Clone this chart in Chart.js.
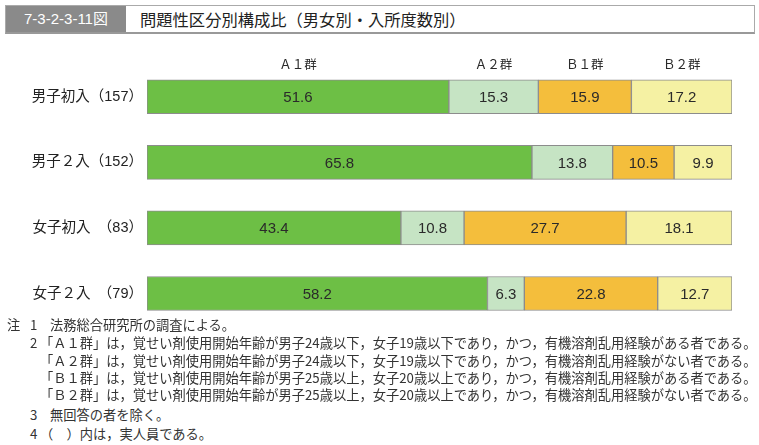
<!DOCTYPE html>
<html>
<head>
<meta charset="utf-8">
<script src="https://cdn.jsdelivr.net/npm/chart.js@4"></script>
<style>
	body { margin: 0; width: 759px; height: 445px; background: #fff; position: relative; overflow: hidden; font-family: "Noto Sans CJK JP", sans-serif; color: #333; }
	.titleBox { position: absolute; left: 5px; top: 5px; width: 748px; height: 26px; border: 1px solid #aaa; border-bottom: 2px solid #999; }
	.titleNo { position: absolute; left: 0; top: 0; width: 120px; height: 26px; background: #8a8a8a; color: #fff; font-family: "Liberation Sans", "Noto Sans CJK JP", sans-serif; font-size: 15px; line-height: 26px; text-align: center; }
	.titleText { position: absolute; left: 134px; top: 0; font-size: 16.3px; line-height: 26px; color: #222; }
	#wrap { position: absolute; left: 0; top: 40px; width: 759px; height: 299px; }
	.note { position: absolute; font-size: 13.25px; line-height: 18px; color: #333; white-space: nowrap; }
</style>
</head>
<body>
<div class="titleBox">
	<div class="titleNo">7-3-2-3-11図</div>
	<div class="titleText">問題性区分別構成比（男女別・入所度数別）</div>
</div>
<div id="wrap"><canvas id="myChart"></canvas></div>
<div class="note" style="left:7px;top:316px;">注</div>
<div class="note" style="left:30px;top:316px;">1</div>
<div class="note" style="left:50px;top:316px;">法務総合研究所の調査による。</div>
<div class="note" style="left:30px;top:334px;">2</div>
<div class="note" style="left:40px;top:334px;">「Ａ１群」は，覚せい剤使用開始年齢が男子24歳以下，女子19歳以下であり，かつ，有機溶剤乱用経験がある者である。</div>
<div class="note" style="left:40px;top:352px;">「Ａ２群」は，覚せい剤使用開始年齢が男子24歳以下，女子19歳以下であり，かつ，有機溶剤乱用経験がない者である。</div>
<div class="note" style="left:40px;top:369px;">「Ｂ１群」は，覚せい剤使用開始年齢が男子25歳以上，女子20歳以上であり，かつ，有機溶剤乱用経験がある者である。</div>
<div class="note" style="left:40px;top:386px;">「Ｂ２群」は，覚せい剤使用開始年齢が男子25歳以上，女子20歳以上であり，かつ，有機溶剤乱用経験がない者である。</div>
<div class="note" style="left:30px;top:406px;">3</div>
<div class="note" style="left:50px;top:406px;">無回答の者を除く。</div>
<div class="note" style="left:30px;top:425px;">4</div>
<div class="note" style="left:40px;top:425px;">（　）内は，実人員である。</div>
<script>
	const categories = ['男子初入（157）', '男子２入（152）', '女子初入　（83）', '女子２入　（79）'];
	const groupNames = ['Ａ１群', 'Ａ２群', 'Ｂ１群', 'Ｂ２群'];
	const a1 = [51.6, 65.8, 43.4, 58.2];
	const a2 = [15.3, 13.8, 10.8, 6.3];
	const b1 = [15.9, 10.5, 27.7, 22.8];
	const b2 = [17.2, 9.9, 18.1, 12.7];
	const colors = ['#6dbf45', '#c6e4c4', '#f4be3c', '#f5f1a3'];

	const numFont = '"Liberation Sans", "Noto Sans CJK JP", sans-serif';

	// value labels in the segments + group names over the first bar
	const segmentLabels = {
		id: 'segmentLabels',
		afterDatasetsDraw(chart) {
			const ctx = chart.ctx;
			ctx.save();
			ctx.textAlign = 'center';
			ctx.textBaseline = 'middle';
			chart.data.datasets.forEach(function (ds, i) {
				const meta = chart.getDatasetMeta(i);
				meta.data.forEach(function (bar, j) {
					const cx = (bar.x + bar.base) / 2;
					ctx.fillStyle = '#2a2a2a';
					ctx.font = '15px ' + numFont;
					ctx.fillText(ds.data[j].toFixed(1), cx, bar.y + 1);
					if (j === 0) {
						ctx.font = '12.5px "Noto Sans CJK JP", sans-serif';
						ctx.fillText(ds.label, cx, bar.y - bar.height / 2 - 16);
					}
				});
			});
			ctx.restore();
		}
	};

	const ctx = document.getElementById('myChart');
	new Chart(ctx, {
		type: 'bar',
		data: {
			labels: categories,
			datasets: [a1, a2, b1, b2].map(function (vals, i) {
				return {
					label: groupNames[i],
					data: vals,
					backgroundColor: colors[i],
					borderColor: '#8c8c8c',
					borderWidth: 1,
					borderSkipped: false,
					barThickness: 34
				};
			})
		},
		options: {
			indexAxis: 'y',
			responsive: true,
			maintainAspectRatio: false,
			animation: false,
			layout: { padding: { top: 24, right: 27, bottom: 4, left: 0 } },
			plugins: {
				legend: { display: false },
				tooltip: { enabled: false }
			},
			scales: {
				x: {
					stacked: true,
					min: 0,
					max: 100,
					display: false
				},
				y: {
					stacked: true,
					grid: { display: false, drawTicks: false },
					border: { display: false },
					afterFit(scale) { scale.width = 147; },
					ticks: {
						padding: 4,
						color: '#222',
						font: { size: 14.5, family: numFont }
					}
				}
			}
		},
		plugins: [segmentLabels]
	});
</script>
</body>
</html>
